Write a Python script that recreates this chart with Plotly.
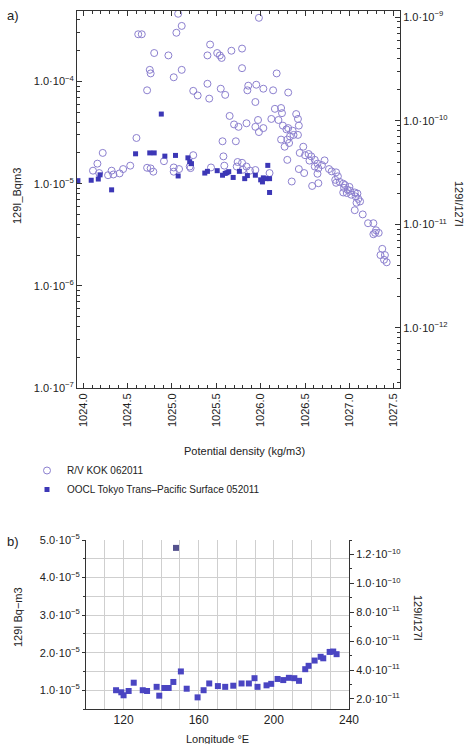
import plotly.graph_objects as go

# ---- Panel a: 129I vs potential density ----
kok_density = [
    1025.07, 1025.11, 1024.62, 1024.66, 1025.05, 1024.80, 1024.96, 1024.75, 1024.76, 1025.11,
    1025.02, 1024.72, 1025.24, 1025.29, 1025.40, 1025.42, 1025.55, 1025.60, 1025.40, 1025.43,
    1025.51, 1025.54, 1025.56, 1025.67, 1025.79, 1025.79, 1025.65, 1025.70, 1025.75, 1025.57,
    1025.72, 1024.60, 1024.22, 1025.58, 1025.24, 1024.16, 1024.11, 1024.18, 1024.53, 1024.45,
    1024.41, 1024.34, 1024.28, 1024.32, 1024.72, 1024.76, 1024.79, 1024.91, 1025.02, 1025.08,
    1025.02, 1025.20, 1025.21, 1025.44, 1025.59, 1025.73, 1025.74, 1025.98, 1026.18, 1025.86,
    1025.95, 1025.85, 1026.03, 1026.14, 1026.31, 1025.94, 1026.16, 1026.23, 1026.24, 1026.40,
    1026.42, 1026.43, 1026.42, 1026.12, 1026.20, 1025.84, 1025.97, 1026.03, 1025.94, 1025.98,
    1026.25, 1026.29, 1026.31, 1026.36, 1026.37, 1026.23, 1026.30, 1026.33, 1026.32, 1026.27,
    1026.44, 1026.48, 1026.50, 1026.54, 1026.57, 1026.55, 1026.61, 1026.64, 1026.65, 1026.61,
    1026.69, 1026.72, 1026.77, 1026.80, 1026.85, 1026.30, 1026.43, 1026.49, 1026.64, 1026.87,
    1026.89, 1026.95, 1026.98, 1027.01, 1027.06, 1027.09, 1027.07, 1027.10, 1025.79, 1025.84,
    1025.88, 1025.94, 1025.80, 1026.10, 1026.35, 1026.58, 1026.65, 1026.84, 1026.85, 1026.93,
    1026.94, 1027.00, 1026.97, 1026.93, 1027.02, 1027.12, 1027.08, 1027.06, 1027.15, 1027.21,
    1027.27, 1027.29, 1027.27, 1027.33, 1027.30, 1027.37, 1027.35, 1027.40, 1027.39, 1027.42,
]
kok_i129 = [
    4.6e-4, 3.5e-4, 2.9e-4, 2.9e-4, 3.0e-4, 1.9e-4, 1.8e-4, 1.3e-4, 1.2e-4, 1.3e-4,
    1.1e-4, 8.2e-5, 8.1e-5, 7.3e-5, 9.5e-5, 6.8e-5, 8.5e-5, 7.4e-5, 1.8e-4, 2.3e-4,
    1.9e-4, 1.8e-4, 1.7e-4, 2.0e-4, 2.1e-4, 1.35e-4, 4.6e-5, 3.8e-5, 3.6e-5, 2.6e-5,
    2.6e-5, 2.8e-5, 2.0e-5, 1.85e-5, 1.9e-5, 1.57e-5, 1.34e-5, 1.27e-5, 1.5e-5, 1.39e-5,
    1.26e-5, 1.23e-5, 1.21e-5, 1.34e-5, 1.43e-5, 1.41e-5, 1.31e-5, 1.66e-5, 1.44e-5, 1.39e-5,
    1.31e-5, 1.47e-5, 1.42e-5, 1.44e-5, 1.5e-5, 1.47e-5, 1.63e-5, 4.2e-4, 1.2e-4, 9.1e-5,
    9.3e-5, 8.2e-5, 8.5e-5, 8.2e-5, 7.8e-5, 6.3e-5, 5.4e-5, 5.5e-5, 4.9e-5, 4.8e-5,
    4.3e-5, 3.7e-5, 3.0e-5, 4.3e-5, 4.2e-5, 3.9e-5, 4.2e-5, 3.5e-5, 3.6e-5, 3.2e-5,
    3.7e-5, 3.4e-5, 3.5e-5, 3.3e-5, 3.0e-5, 2.7e-5, 2.7e-5, 2.9e-5, 2.5e-5, 2.3e-5,
    2.0e-5, 2.3e-5, 1.9e-5, 1.95e-5, 1.85e-5, 1.68e-5, 1.71e-5, 1.57e-5, 1.41e-5, 1.47e-5,
    1.52e-5, 1.69e-5, 1.39e-5, 1.32e-5, 1.29e-5, 1.71e-5, 1.39e-5, 1.27e-5, 1.25e-5, 1.18e-5,
    1.04e-5, 9.7e-6, 8.7e-6, 8.5e-6, 8.2e-6, 8.0e-6, 7.5e-6, 7.1e-6, 1.6e-5, 1.47e-5,
    1.34e-5, 1.36e-5, 1.37e-5, 1.27e-5, 1.05e-5, 9.5e-6, 1.01e-5, 1.09e-5, 1.02e-5, 1.0e-5,
    9.1e-6, 9.3e-6, 8.1e-6, 8.2e-6, 7.8e-6, 6.7e-6, 6.5e-6, 5.5e-6, 5.0e-6, 4.1e-6,
    4.1e-6, 3.3e-6, 3.2e-6, 3.3e-6, 3.5e-6, 2.3e-6, 2.0e-6, 2.0e-6, 1.8e-6, 1.7e-6,
]

oocl_density = [
    1023.94, 1024.09, 1024.17, 1024.19, 1024.32, 1024.59, 1024.75, 1024.80, 1024.92, 1025.04,
    1024.88, 1025.07, 1025.18, 1025.20, 1025.22, 1025.37, 1025.40, 1025.51, 1025.57, 1025.60,
    1025.62, 1025.64, 1025.69, 1025.76, 1025.82, 1025.85, 1025.94, 1026.00, 1026.02, 1026.03,
    1026.06, 1026.08, 1026.10, 1026.10,
]
oocl_i129 = [
    1.07e-5, 1.08e-5, 1.11e-5, 1.22e-5, 8.7e-6, 1.96e-5, 2.0e-5, 2.0e-5, 1.86e-5, 1.89e-5,
    4.8e-5, 1.19e-5, 1.79e-5, 1.64e-5, 1.57e-5, 1.27e-5, 1.32e-5, 1.34e-5, 1.21e-5, 1.26e-5,
    1.28e-5, 1.31e-5, 1.15e-5, 1.32e-5, 1.12e-5, 1.2e-5, 1.21e-5, 1.09e-5, 1.04e-5, 1.14e-5,
    1.12e-5, 1.51e-5, 1.12e-5, 8.2e-6,
]

density_ticks = [1024.0, 1024.5, 1025.0, 1025.5, 1026.0, 1026.5, 1027.0, 1027.5]
bq_decades = [1e-7, 1e-6, 1e-5, 1e-4]
bq_decade_labels = ["1.0·10<sup>−7</sup>", "1.0·10<sup>−6</sup>",
                    "1.0·10<sup>−5</sup>", "1.0·10<sup>−4</sup>"]
ratio_decades = [1e-12, 1e-11, 1e-10, 1e-9]
ratio_decade_labels = ["1.0·10<sup>−12</sup>", "1.0·10<sup>−11</sup>",
                       "1.0·10<sup>−10</sup>", "1.0·10<sup>−9</sup>"]

# ---- Panel b: surface 129I along the trans-Pacific track ----
track_lon = [
    116.0, 118.8, 120.0, 122.7, 125.4, 130.2, 132.5, 137.6, 139.0, 141.7,
    144.0, 146.5, 150.5, 153.6, 159.4, 162.6, 165.6, 170.2, 174.1, 178.4,
    182.8, 186.7, 189.7, 191.3, 196.1, 198.6, 202.0, 205.0, 208.0, 210.9,
    213.4, 216.7, 218.5, 221.7, 224.9, 226.3, 229.7, 231.6, 233.4,
]
track_i129 = [
    1.0e-5, 0.945e-5, 0.865e-5, 0.98e-5, 1.2e-5, 1.0e-5, 0.98e-5, 1.09e-5, 0.855e-5, 1.06e-5,
    1.06e-5, 1.22e-5, 1.5e-5, 1.04e-5, 0.81e-5, 1.0e-5, 1.18e-5, 1.11e-5, 1.09e-5, 1.12e-5,
    1.18e-5, 1.18e-5, 1.32e-5, 1.09e-5, 1.13e-5, 1.17e-5, 1.30e-5, 1.27e-5, 1.33e-5, 1.32e-5,
    1.25e-5, 1.56e-5, 1.65e-5, 1.79e-5, 1.89e-5, 1.85e-5, 2.02e-5, 2.03e-5, 1.96e-5,
]
outlier_lon = [147.9]
outlier_i129 = [4.79e-5]

lon_ticks = [120, 160, 200, 240]
bq_lin_ticks = [1e-5, 2e-5, 3e-5, 4e-5, 5e-5]
bq_lin_labels = ["1.0·10<sup>−5</sup>", "2.0·10<sup>−5</sup>", "3.0·10<sup>−5</sup>",
                 "4.0·10<sup>−5</sup>", "5.0·10<sup>−5</sup>"]
ratio_lin_ticks = [2e-11, 4e-11, 6e-11, 8e-11, 1.0e-10, 1.2e-10]
ratio_lin_labels = ["2.0·10<sup>−11</sup>", "4.0·10<sup>−11</sup>", "6.0·10<sup>−11</sup>",
                    "8.0·10<sup>−11</sup>", "1.0·10<sup>−10</sup>", "1.2·10<sup>−10</sup>"]

FONT = "Liberation Sans, Arial, sans-serif"
TXT = "#222222"
AX = "#333333"
GRID = "#cfcfcf"
CIRCLE = "#8c80cf"
SQUARE = "#3c37b6"
W, H = 466, 744


def px_x(p):
    return p / W


def px_y(p):
    return 1 - p / H


def log_minor(lo_exp, hi_exp):
    vals = []
    for e in range(lo_exp, hi_exp + 1):
        for m in range(2, 10):
            vals.append(m * 10.0 ** e)
    return vals


fig = go.Figure()

fig.add_trace(go.Scatter(
    x=kok_density, y=kok_i129, mode="markers", name="R/V KOK 062011",
    marker=dict(symbol="circle-open", size=7, color=CIRCLE, line=dict(width=1, color=CIRCLE)),
    xaxis="x", yaxis="y",
))
fig.add_trace(go.Scatter(
    x=oocl_density, y=oocl_i129, mode="markers", name="OOCL Tokyo Trans–Pacific Surface 052011",
    marker=dict(symbol="square", size=5, color=SQUARE),
    xaxis="x", yaxis="y",
))
# empty traces so the ratio axis and the top frame axis of panel a are drawn
fig.add_trace(go.Scatter(x=[], y=[], xaxis="x", yaxis="y2", showlegend=False, hoverinfo="skip"))
fig.add_trace(go.Scatter(x=[], y=[], xaxis="x3", yaxis="y", showlegend=False, hoverinfo="skip"))

fig.add_trace(go.Scatter(
    x=track_lon, y=track_i129, mode="markers", showlegend=False,
    marker=dict(symbol="square", size=6, color="#4a45c2"),
    xaxis="x2", yaxis="y3",
))
fig.add_trace(go.Scatter(
    x=outlier_lon, y=outlier_i129, mode="markers", showlegend=False,
    marker=dict(symbol="square", size=6, color="#55528e"),
    xaxis="x2", yaxis="y3",
))
fig.add_trace(go.Scatter(x=[], y=[], xaxis="x2", yaxis="y4", showlegend=False, hoverinfo="skip"))

tickfont = dict(family=FONT, size=11, color=TXT)

top_dom_x = [px_x(77), px_x(400)]
top_dom_y = [px_y(388), px_y(11)]
bot_dom_y = [px_y(709), px_y(540)]
density_range = [1023.93, 1027.57]

fig.update_layout(
    template="none",
    width=W, height=H,
    margin=dict(l=0, r=0, t=0, b=0, pad=0, autoexpand=False),
    paper_bgcolor="white", plot_bgcolor="white",
    font=dict(family=FONT, color=TXT),
    xaxis=dict(
        domain=top_dom_x, anchor="y", range=density_range, automargin=False,
        tickvals=density_ticks, ticktext=[f"{v:.1f}" for v in density_ticks],
        tickangle=-90, ticks="inside", ticklen=5, tickcolor=AX, tickfont=tickfont,
        minor=dict(dtick=0.1, tick0=1024.0, ticks="inside", ticklen=3, tickcolor=AX, showgrid=False),
        showline=True, linecolor=AX, linewidth=1,
        showgrid=False, zeroline=False,
    ),
    xaxis3=dict(
        overlaying="x", side="top", anchor="y", range=density_range, automargin=False,
        tickvals=density_ticks, showticklabels=False,
        ticks="inside", ticklen=5, tickcolor=AX,
        minor=dict(dtick=0.1, tick0=1024.0, ticks="inside", ticklen=3, tickcolor=AX, showgrid=False),
        showline=True, linecolor=AX, linewidth=1,
        showgrid=False, zeroline=False,
    ),
    yaxis=dict(
        domain=top_dom_y, anchor="x", type="log", range=[-7.0, -3.31], automargin=False,
        tickvals=bq_decades, ticktext=bq_decade_labels,
        ticks="inside", ticklen=5, tickcolor=AX, tickfont=tickfont,
        minor=dict(tickvals=log_minor(-7, -4), ticks="inside", ticklen=3, tickcolor=AX, showgrid=False),
        showline=True, linecolor=AX, linewidth=1,
        showgrid=False, zeroline=False,
    ),
    yaxis2=dict(
        overlaying="y", side="right", anchor="x", type="log", range=[-12.58, -8.94], automargin=False,
        tickvals=ratio_decades, ticktext=ratio_decade_labels,
        ticks="inside", ticklen=5, tickcolor=AX, tickfont=tickfont,
        minor=dict(tickvals=log_minor(-13, -9), ticks="inside", ticklen=3, tickcolor=AX, showgrid=False),
        showline=True, linecolor=AX, linewidth=1,
        showgrid=False, zeroline=False,
    ),
    xaxis2=dict(
        domain=[px_x(86), px_x(349)], anchor="y3", range=[100, 240], automargin=False,
        tickvals=lon_ticks, ticks="", tickfont=dict(family=FONT, size=12, color=TXT),
        showgrid=True, gridcolor=GRID, gridwidth=1,
        minor=dict(dtick=10, tick0=100, showgrid=True, gridcolor=GRID, gridwidth=1),
        showline=True, linecolor=AX, linewidth=1, zeroline=False,
    ),
    yaxis3=dict(
        domain=bot_dom_y, anchor="x2", range=[5e-6, 5e-5], automargin=False,
        tickvals=bq_lin_ticks, ticktext=bq_lin_labels,
        ticks="outside", ticklen=3, tickcolor=AX, tickfont=tickfont,
        showgrid=True, gridcolor=GRID, gridwidth=1,
        minor=dict(dtick=5e-6, tick0=0, showgrid=True, gridcolor=GRID, gridwidth=1,
                   ticks="outside", ticklen=2, tickcolor=AX),
        showline=True, linecolor=AX, linewidth=1, zeroline=False,
    ),
    yaxis4=dict(
        overlaying="y3", side="right", anchor="x2", range=[1.3e-11, 1.3e-10], automargin=False,
        tickvals=ratio_lin_ticks, ticktext=ratio_lin_labels,
        ticks="outside", ticklen=4, tickcolor=AX, tickfont=tickfont,
        minor=dict(dtick=1e-11, tick0=0, ticks="outside", ticklen=2, tickcolor=AX, showgrid=False),
        showline=True, linecolor=AX, linewidth=1, showgrid=False, zeroline=False,
    ),
    legend=dict(
        x=px_x(27), y=px_y(456), xanchor="left", yanchor="top",
        font=dict(family=FONT, size=10, color=TXT), bgcolor="rgba(0,0,0,0)",
        tracegroupgap=0, itemsizing="trace",
    ),
    showlegend=True,
)

annotations = [
    dict(text="a)", x=px_x(13), y=px_y(16), font=dict(size=13)),
    dict(text="b)", x=px_x(13), y=px_y(541), font=dict(size=13)),
    dict(text="129I_Bqm3", x=px_x(17), y=px_y(196), textangle=-90, font=dict(size=11)),
    dict(text="129I/127I", x=px_x(459), y=px_y(204), textangle=90, font=dict(size=11)),
    dict(text="Potential density (kg/m3)", x=px_x(245), y=px_y(451), font=dict(size=11)),
    dict(text="129I Bq−m3", x=px_x(18), y=px_y(617), textangle=-90, font=dict(size=11)),
    dict(text="129I/127I", x=px_x(418), y=px_y(618), textangle=90, font=dict(size=11)),
    dict(text="Longitude °E", x=px_x(217), y=px_y(739), font=dict(size=11)),
]
for a in annotations:
    a.update(xref="paper", yref="paper", showarrow=False, xanchor="center", yanchor="middle")
    a["font"] = dict(family=FONT, color=TXT, **a["font"])
fig.update_layout(annotations=annotations)

fig.write_html("out.html")
